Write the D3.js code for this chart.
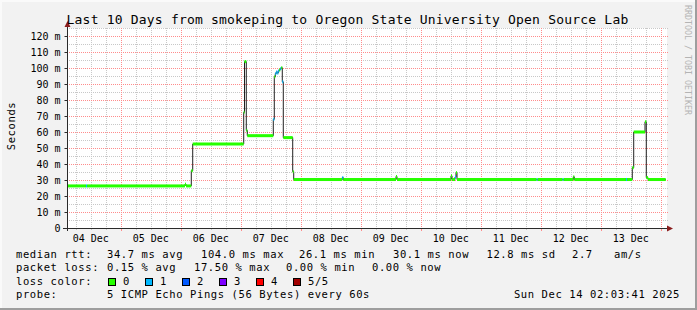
<!DOCTYPE html>
<html>
<head>
<meta charset="utf-8">
<script src="https://cdn.jsdelivr.net/npm/d3@7"></script>
<style>
  body { margin: 0; background: #f0f0f0; }
  text { font-family: "DejaVu Sans Mono", monospace; }
</style>
</head>
<body>
<svg id="chart"></svg>
<script>
// smokeping median rtt, one entry per step change (time, ms, lost pings out of 5)
var stepTimes = [
  "2025-12-04 02:31", "2025-12-04 10:07", "2025-12-04 10:31", "2025-12-06 01:43",
  "2025-12-06 02:07", "2025-12-06 04:14", "2025-12-06 04:48", "2025-12-07 01:12",
  "2025-12-07 01:31", "2025-12-07 02:14", "2025-12-07 02:38", "2025-12-07 13:02",
  "2025-12-07 13:26", "2025-12-07 13:50", "2025-12-07 14:14", "2025-12-07 14:38",
  "2025-12-07 15:02", "2025-12-07 15:26", "2025-12-07 15:50", "2025-12-07 16:14",
  "2025-12-07 16:38", "2025-12-07 17:02", "2025-12-07 20:48", "2025-12-07 21:12",
  "2025-12-08 16:38", "2025-12-08 17:02", "2025-12-09 14:07", "2025-12-09 14:31",
  "2025-12-10 12:07", "2025-12-10 12:31", "2025-12-10 13:43", "2025-12-10 14:07",
  "2025-12-10 14:31", "2025-12-11 22:24", "2025-12-11 22:48", "2025-12-12 08:48",
  "2025-12-12 09:12", "2025-12-12 13:02", "2025-12-12 13:26", "2025-12-13 10:07",
  "2025-12-13 10:31", "2025-12-13 12:38", "2025-12-13 13:12", "2025-12-13 17:43",
  "2025-12-13 18:14", "2025-12-13 18:55"
];
var medianMs = [
  26.3, 26.3, 26.3, 27.4,
  26.3, 35.8, 52.5, 72.3,
  104.0, 61.0, 57.7, 67.9,
  94.5, 96.5, 97.6, 96.8,
  98.2, 98.8, 99.6, 100.2,
  91.4, 56.5, 35.2, 30.3,
  31.5, 30.3, 32.2, 30.3,
  32.6, 30.3, 31.8, 34.6,
  30.3, 30.3, 30.3, 30.3,
  30.3, 32.0, 30.3, 30.3,
  30.3, 37.7, 60.0, 66.4,
  31.5, 30.3
];
var lostPings = [
  0, 1, 0, 0,
  0, 0, 0, 0,
  0, 0, 0, 1,
  0, 1, 1, 1,
  1, 0, 1, 0,
  1, 0, 0, 0,
  1, 0, 0, 0,
  0, 0, 1, 0,
  0, 1, 0, 1,
  0, 0, 0, 1,
  0, 0, 0, 0,
  0, 0
];
var lastSample = "2025-12-14 02:00";
var timeDomain = ["2025-12-04 02:31", "2025-12-14 02:31"];

var yTicks = [0, 10, 20, 30, 40, 50, 60, 70, 80, 90, 100, 110, 120];
var lossLabels = ["0", "1", "2", "3", "4", "5/5"];
var lossColors = ["#26ff00", "#00b8ff", "#0059ff", "#7e00ff", "#ff0000", "#a10000"];

var title = "Last 10 Days from smokeping to Oregon State University Open Source Lab";
var legendRows = [
  { label: "median rtt:", cells: [["34.7 ms avg", 107], ["104.0 ms max", 201], ["26.1 ms min", 299], ["30.1 ms now", 393], ["12.8 ms sd", 486.5], ["2.7", 572], ["am/s", 614]] },
  { label: "packet loss:", cells: [["0.15 % avg", 107], ["17.50 % max", 194], ["0.00 % min", 286], ["0.00 % now", 372]] },
  { label: "loss color:", cells: [] },
  { label: "probe:", cells: [["5 ICMP Echo Pings (56 Bytes) every 60s", 107]] }
];
var stamp = "Sun Dec 14 02:03:41 2025";

var width = 697,
    height = 310,
    plotLeft = 67, plotRight = 667,
    plotTop = 28, plotBottom = 228;

var parse = d3.utcParse("%Y-%m-%d %H:%M");

var svg = d3.select("#chart")
    .attr("width", width)
    .attr("height", height);

// frame
svg.append("rect").attr("width", width).attr("height", height).attr("fill", "#f2f2f2");
svg.append("rect").attr("x", 0).attr("y", 0).attr("width", width).attr("height", 2).attr("fill", "#fafafa");
svg.append("rect").attr("x", 0).attr("y", 0).attr("width", 2).attr("height", height).attr("fill", "#fafafa");
svg.append("rect").attr("x", 0).attr("y", height - 2).attr("width", width).attr("height", 2).attr("fill", "#9e9e9e");
svg.append("rect").attr("x", width - 2).attr("y", 0).attr("width", 2).attr("height", height).attr("fill", "#9e9e9e");

svg.append("rect")
    .attr("x", plotLeft).attr("y", plotTop)
    .attr("width", plotRight - plotLeft).attr("height", plotBottom - plotTop)
    .attr("fill", "#fff");

var x = d3.scaleUtc()
    .domain(timeDomain.map(parse))
    .range([plotLeft, plotRight]);

var y = d3.scaleLinear()
    .domain([0, 125])
    .range([plotBottom, plotTop]);

var px = function(v) { return Math.round(v) + 0.5; };

// grid
var grid = svg.append("g").attr("shape-rendering", "crispEdges");

var minorH = d3.range(5, 126, 5).filter(function(d) { return d % 10 !== 0; });
grid.selectAll(".hmin").data(minorH).enter().append("line")
    .attr("x1", plotLeft).attr("x2", plotRight + 1)
    .attr("y1", function(d) { return px(y(d)); })
    .attr("y2", function(d) { return px(y(d)); })
    .attr("stroke", "#c8c8c8").attr("stroke-dasharray", "1,1");

var hours = x.ticks(d3.utcHour.every(6)).filter(function(d) { return d.getUTCHours() !== 0; });
grid.selectAll(".vmin").data(hours).enter().append("line")
    .attr("y1", plotTop).attr("y2", plotBottom)
    .attr("x1", function(d) { return px(x(d)); })
    .attr("x2", function(d) { return px(x(d)); })
    .attr("stroke", "#c8c8c8").attr("stroke-dasharray", "1,1");

grid.selectAll(".hmaj").data(yTicks.slice(1)).enter().append("line")
    .attr("x1", plotLeft).attr("x2", plotRight + 1)
    .attr("y1", function(d) { return px(y(d)); })
    .attr("y2", function(d) { return px(y(d)); })
    .attr("stroke", "#ff8c8c").attr("stroke-dasharray", "1,1");

var days = x.ticks(d3.utcDay);
grid.selectAll(".vmaj").data(days).enter().append("line")
    .attr("y1", plotTop).attr("y2", plotBottom)
    .attr("x1", function(d) { return px(x(d)); })
    .attr("x2", function(d) { return px(x(d)); })
    .attr("stroke", "#ff8c8c").attr("stroke-dasharray", "1,1");

// tick marks under the x axis
grid.selectAll(".tmin").data(hours).enter().append("line")
    .attr("y1", plotBottom).attr("y2", plotBottom + 2)
    .attr("x1", function(d) { return px(x(d)); })
    .attr("x2", function(d) { return px(x(d)); })
    .attr("stroke", "#c8c8c8");
grid.selectAll(".tmaj").data(days).enter().append("line")
    .attr("y1", plotBottom).attr("y2", plotBottom + 3)
    .attr("x1", function(d) { return px(x(d)); })
    .attr("x2", function(d) { return px(x(d)); })
    .attr("stroke", "#ff8c8c");

// data
var points = stepTimes.map(function(t, i) {
    return { t: parse(t), v: medianMs[i], loss: lostPings[i] };
});
var ends = points.slice(1).map(function(d) { return d.t; }).concat([parse(lastSample)]);

var line = d3.line()
    .x(function(d) { return x(d.t); })
    .y(function(d) { return y(d.v); })
    .curve(d3.curveStepAfter);

svg.append("path")
    .datum(points.concat([{ t: parse(lastSample), v: medianMs[medianMs.length - 1] }]))
    .attr("d", line)
    .attr("fill", "none")
    .attr("stroke", "#202020")
    .attr("stroke-width", 1);

svg.append("g").selectAll("rect")
    .data(points)
    .enter().append("rect")
    .attr("x", function(d) { return x(d.t); })
    .attr("width", function(d, i) { return x(ends[i]) - x(d.t); })
    .attr("y", function(d) { return y(d.v) - 1.5; })
    .attr("height", 3)
    .attr("fill", function(d) { return lossColors[d.loss]; });

// axes
svg.append("line")
    .attr("x1", plotLeft - 4).attr("x2", plotRight + 2)
    .attr("y1", plotBottom + 0.5).attr("y2", plotBottom + 0.5)
    .attr("stroke", "#2a2a2a");
svg.append("line")
    .attr("x1", plotLeft + 0.5).attr("x2", plotLeft + 0.5)
    .attr("y1", plotBottom + 3).attr("y2", plotTop - 4)
    .attr("stroke", "#2a2a2a");
svg.append("path")
    .attr("d", "M" + (plotLeft + 0.5) + "," + (plotTop - 7) + "l-3,6h6z")
    .attr("fill", "#8a1c1c");
svg.append("path")
    .attr("d", "M" + (plotRight + 6) + "," + (plotBottom + 0.5) + "l-6,-3v6z")
    .attr("fill", "#8a1c1c");

var yAxis = svg.append("g")
    .attr("transform", "translate(" + (plotLeft + 0.5) + ",0)")
    .call(d3.axisLeft(y)
        .tickValues(yTicks)
        .tickSize(3)
        .tickPadding(4)
        .tickFormat(function(d) { return d === 0 ? "0" : d + " m"; }));
yAxis.select(".domain").remove();
yAxis.selectAll("line").attr("stroke", "#2a2a2a");
yAxis.selectAll("text")
    .attr("font-family", "DejaVu Sans Mono")
    .attr("font-size", "10px")
    .attr("fill", "#000");

var dayFormat = d3.utcFormat("%d %b");
var noons = days.map(function(d) { return d3.utcHour.offset(d, -12); });
svg.append("g").selectAll("text")
    .data(noons)
    .enter().append("text")
    .attr("x", function(d) { return x(d); })
    .attr("y", 241.5)
    .attr("text-anchor", "middle")
    .attr("font-size", "10px")
    .text(function(d) { return dayFormat(d); });

// title and side texts
svg.append("text")
    .attr("x", 347.5).attr("y", 24)
    .attr("text-anchor", "middle")
    .attr("font-size", "13px")
    .attr("letter-spacing", "0.2px")
    .text(title);

svg.append("text")
    .attr("transform", "translate(15,126) rotate(-90)")
    .attr("text-anchor", "middle")
    .attr("font-size", "10.5px")
    .attr("letter-spacing", "0.6px")
    .text("Seconds");

svg.append("text")
    .attr("transform", "translate(685,5) rotate(90)")
    .attr("font-size", "8.3px")
    .attr("fill", "#b4b4b4")
    .text("RRDTOOL / TOBI OETIKER");

// legend
var legend = svg.append("g")
    .attr("font-size", "10.5px")
    .attr("letter-spacing", "0.6px");

legendRows.forEach(function(row, i) {
    var base = 258 + i * 13.3;
    legend.append("text").attr("x", 16).attr("y", base).text(row.label);
    row.cells.forEach(function(c) {
        legend.append("text").attr("x", c[1]).attr("y", base).text(c[0]);
    });
});

var swatch = legend.selectAll(".sw")
    .data(lossLabels)
    .enter().append("g")
    .attr("transform", function(d, i) { return "translate(" + (108 + i * 37) + ",278)"; });
swatch.append("rect")
    .attr("x", 0.5).attr("y", 0.5)
    .attr("width", 7).attr("height", 7)
    .attr("fill", function(d, i) { return lossColors[i]; })
    .attr("stroke", "#000");
swatch.append("text")
    .attr("x", 15).attr("y", 7)
    .text(function(d) { return d; });

legend.append("text")
    .attr("x", 680).attr("y", 258 + 3 * 13.3)
    .attr("text-anchor", "end")
    .text(stamp);
</script>
</body>
</html>
